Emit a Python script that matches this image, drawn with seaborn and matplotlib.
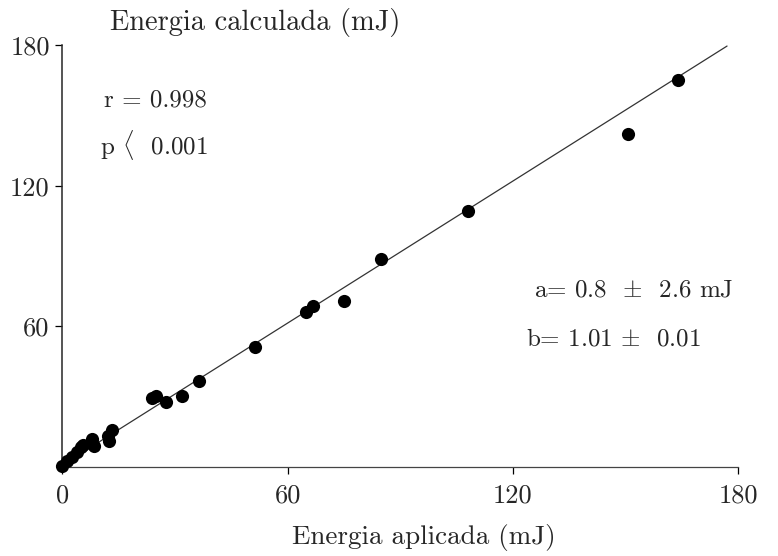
import matplotlib
matplotlib.use("Agg")
import matplotlib.pyplot as plt
import seaborn as sns
import numpy as np
import pandas as pd

# Applied vs. calculated energy (mJ)
applied = [0.0, 1.3, 2.7, 4.0, 5.1, 5.5, 8.0, 8.5, 12.3, 12.5, 13.3,
           24.0, 25.0, 27.5, 32.0, 36.5, 51.2, 64.8, 66.7, 74.9, 84.8,
           108.0, 150.7, 164.0]
calculated = [0.5, 2.6, 4.3, 6.4, 8.5, 9.4, 11.9, 8.9, 13.2, 11.1, 15.7,
              29.4, 30.2, 27.7, 30.2, 36.6, 51.1, 66.0, 68.5, 71.0, 88.9,
              109.4, 142.0, 165.0]

# Regression parameters shown on the chart
intercept = 0.8
slope = 1.01
fit_range = [0.0, 177.0]

ticks = [0, 60, 120, 180]
tick_labels = ["0", "60", "120", "180"]

sns.set_style("ticks")
serif = ["cmr10", "DejaVu Serif"]
plt.rcParams["font.family"] = serif
plt.rcParams["mathtext.fontset"] = "cm"
plt.rcParams["axes.formatter.use_mathtext"] = True

df = pd.DataFrame({"applied": applied, "calculated": calculated})
fit_x = np.array(fit_range)
fit_df = pd.DataFrame({"x": fit_x, "y": intercept + slope * fit_x})

fig = plt.figure(figsize=(7.78, 5.56), dpi=100)
ax = fig.add_axes([0.080, 0.160, 0.869, 0.759])

sns.lineplot(data=fit_df, x="x", y="y", ax=ax, color="#333333",
             linewidth=0.9, zorder=2)
sns.scatterplot(data=df, x="applied", y="calculated", ax=ax, color="black",
                s=90, edgecolor="black", linewidth=0, zorder=3, clip_on=False)

ax.set_xlim(0, 180)
ax.set_ylim(0, 180)
ax.set_xticks(ticks)
ax.set_xticklabels(tick_labels)
ax.set_yticks(ticks[1:])
ax.set_yticklabels(tick_labels[1:])
ax.tick_params(axis="both", labelsize=19, length=5, width=0.9,
               color="black")
ax.tick_params(axis="y", pad=4)
ax.tick_params(axis="x", pad=7)
for lab in ax.get_xticklabels() + ax.get_yticklabels():
    lab.set_family(serif)

sns.despine(ax=ax)
ax.spines["left"].set_linewidth(1.1)
ax.spines["bottom"].set_linewidth(0.9)
ax.spines["bottom"].set_color("#444444")

ax.set_xlabel("")
ax.set_ylabel("")
fig.text(0.328, 0.960, "Energia calculada (mJ)", ha="center", va="center",
         fontsize=20.5, family=serif)
fig.text(0.545, 0.034, "Energia aplicada (mJ)", ha="center", va="center",
         fontsize=19.5, family=serif)

ax.text(11.0, 156.5, "r = 0.998", fontsize=18, family=serif, va="center")
ax.text(10.0, 137.4, r"p $\langle$  0.001", fontsize=18, family=serif,
        va="center")
ax.text(125.5, 75.3, r"a= 0.8  $\pm$  2.6 mJ", fontsize=18, family=serif,
        va="center")
ax.text(123.4, 54.5, r"b= 1.01 $\pm$  0.01", fontsize=18, family=serif,
        va="center")

fig.savefig("out.png", dpi=100, facecolor="white")
